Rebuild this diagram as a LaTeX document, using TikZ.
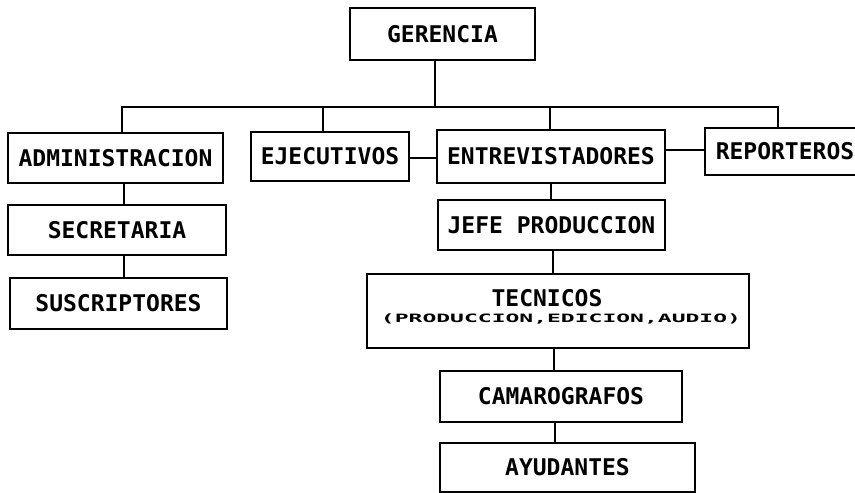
\documentclass[tikz,border=0pt]{standalone}
\usepackage{fontspec}
\usepackage{graphicx}
\newfontfamily\orgmono{DejaVu Sans Mono}
\begin{document}
\begin{tikzpicture}[x=1pt,y=-1pt,
  box/.style={draw=black,line width=2.2pt,fill=white,inner sep=0pt,align=center,
    font=\orgmono\bfseries\fontsize{23}{23}\selectfont},
  wire/.style={draw=black,line width=2.2pt}]
\useasboundingbox (0,0) rectangle (855,493);
\clip (0,0) rectangle (855,493);
% nodes
\node[box,minimum width=185,minimum height=52] (ger) at (442.5,34) {GERENCIA};
\node[box,minimum width=215,minimum height=50] (adm) at (115.5,158) {ADMINISTRACION};
\node[box,minimum width=158,minimum height=49] (eje) at (330,156.5) {EJECUTIVOS};
\node[box,minimum width=228,minimum height=53] (ent) at (551,156.5) {ENTREVISTADORES};
\node[box,minimum width=160,minimum height=47] (rep) at (785,151.5) {REPORTEROS};
\node[box,minimum width=218,minimum height=50] (sec) at (117,230) {SECRETARIA};
\node[box,minimum width=217,minimum height=51] (sus) at (118.5,303.5) {SUSCRIPTORES};
\node[box,minimum width=227,minimum height=50] (jefe) at (551.5,225) {JEFE PRODUCCION};
\node[box,minimum width=382,minimum height=74] (tec) at (558,311) {};
\node[font=\orgmono\bfseries\fontsize{23}{23}\selectfont,inner sep=0pt] (tect) at (547,298) {TECNICOS};
\node[font=\orgmono\bfseries\fontsize{23}{23}\selectfont,inner sep=0pt] (tecs) at (561,319)
  {\scalebox{1}[0.5]{(PRODUCCION,EDICION,AUDIO)}};
\node[box,minimum width=242,minimum height=51] (cam) at (561,396.5) {CAMAROGRAFOS};
\node[box,minimum width=255,minimum height=49] (ayu) at (567.5,467.5) {AYUDANTES};
% helper coordinates
\coordinate (bus) at (0,107);
\coordinate (gx) at (435,0);
\coordinate (ax) at (122,0);
\coordinate (ex) at (323,0);
\coordinate (nx) at (550,0);
\coordinate (rx) at (778,0);
\coordinate (sx) at (124,0);
\coordinate (jx) at (551,0);
\coordinate (tx) at (553,0);
\coordinate (cx) at (554,0);
\coordinate (yx) at (555,0);
% connectors
\draw[wire] (ger.south -| gx) -- (bus -| gx);
\draw[wire] (adm.north -| ax) -- (bus -| ax) -- (bus -| rx) -- (rep.north -| rx);
\draw[wire] (bus -| ex) -- (eje.north -| ex);
\draw[wire] (bus -| nx) -- (ent.north -| nx);
\draw[wire] ([yshift=-1.5]eje.east) -- ([yshift=-1.5]eje.east -| ent.west);
\draw[wire] ([yshift=1.5]rep.west -| ent.east) -- ([yshift=1.5]rep.west);
\draw[wire] (adm.south -| sx) -- (sec.north -| sx);
\draw[wire] (sec.south -| sx) -- (sus.north -| sx);
\draw[wire] (ent.south -| jx) -- (jefe.north -| jx);
\draw[wire] (jefe.south -| tx) -- (tec.north -| tx);
\draw[wire] (tec.south -| cx) -- (cam.north -| cx);
\draw[wire] (cam.south -| yx) -- (ayu.north -| yx);
\end{tikzpicture}
\end{document}
